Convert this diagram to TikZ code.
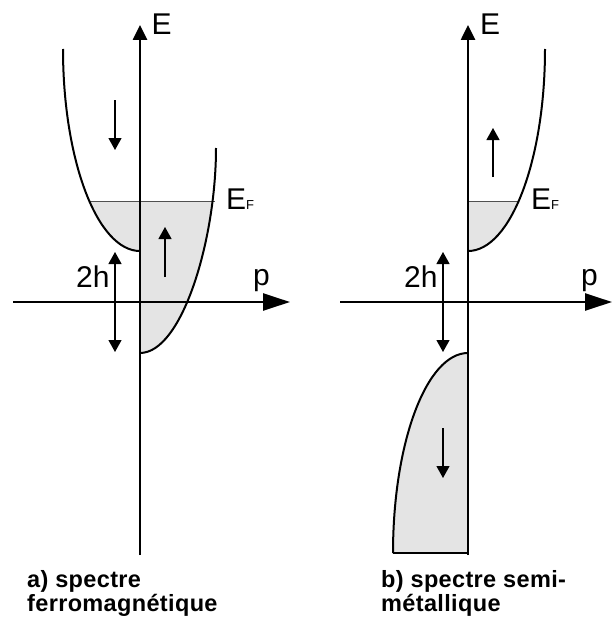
\documentclass[tikz,border=0pt]{standalone}
\usepackage{fontspec}
\setmainfont{Liberation Sans}
\usetikzlibrary{arrows.meta}
\definecolor{bandfill}{RGB}{228,228,228}
\definecolor{fermi}{RGB}{80,80,80}
\begin{document}
\begin{tikzpicture}[x=1pt,y=-1pt,
  axisline/.style={line width=2.6pt},
  haxis/.style={axisline,-{Triangle[length=27pt,width=17pt]}},
  vaxis/.style={axisline,-{Triangle[length=15pt,width=14pt]}},
  bandline/.style={line width=2pt},
  spinarrow/.style={line width=1.2pt,-{Triangle[length=12pt,width=13pt]}},
  gaparrow/.style={line width=1.2pt,{Triangle[length=12pt,width=13pt]}-{Triangle[length=12pt,width=13pt]}},
  fermiline/.style={line width=1pt,draw=fermi},
  lbl/.style={inner sep=0pt,anchor=base west,font=\fontsize{30}{30}\selectfont},
  captxt/.style={inner sep=0pt,anchor=base west,font=\fontsize{23.5}{24}\selectfont\bfseries\addfontfeature{LetterSpace=1.5}}
]
\useasboundingbox (0,0) rectangle (613,626);

% ---------- coordinates: panel a ----------
\coordinate (aEbot) at (140,555);
\coordinate (aEtop) at (140,25);
\coordinate (aPleft) at (13,302);
\coordinate (aPright) at (290,302);
\coordinate (aDtop) at (63,49);
\coordinate (aDmin) at (140,251);
\coordinate (aUmin) at (140,353);
\coordinate (aUtop) at (216,148);
\coordinate (aFl) at (89,201);
\coordinate (aFr) at (215,201);
\coordinate (aDn1) at (115,100);
\coordinate (aDn2) at (115,150);
\coordinate (aUp1) at (165,277);
\coordinate (aUp2) at (165,227);
\coordinate (aG1) at (115,252);
\coordinate (aG2) at (115,352);

% ---------- coordinates: panel b ----------
\coordinate (bEbot) at (468,555);
\coordinate (bEtop) at (468,25);
\coordinate (bPleft) at (340,302);
\coordinate (bPright) at (612,302);
\coordinate (bUtop) at (545,49);
\coordinate (bUmin) at (468,251);
\coordinate (bDmax) at (468,353);
\coordinate (bDbot) at (393,553);
\coordinate (bDcorner) at (468,553);
\coordinate (bFl) at (468,201);
\coordinate (bFr) at (518,201);
\coordinate (bUp1) at (493,177);
\coordinate (bUp2) at (493,128);
\coordinate (bG1) at (443,252);
\coordinate (bG2) at (443,352);
\coordinate (bDn1) at (443,428);
\coordinate (bDn2) at (443,478);

% ---------- filled regions ----------
\begin{scope}
  \clip (0,201) rectangle (613,626);
  \fill[bandfill] (aDtop) .. controls (63,160.6) and (97.5,251) .. (aDmin)
     -- (aUmin) .. controls (182,353) and (216,239.8) .. (aUtop) -- cycle;
  \fill[bandfill] (bUtop) .. controls (545,160.6) and (510.5,251) .. (bUmin)
     -- (468,49) -- cycle;
\end{scope}
\fill[bandfill] (bDmax) .. controls (426.6,353) and (393,442.5) .. (bDbot) -- (bDcorner) -- cycle;

% ---------- Fermi levels ----------
\draw[fermiline] (aFl) -- (aFr);
\draw[fermiline] (bFl) -- (bFr);

% ---------- bands ----------
\draw[bandline] (aDtop) .. controls (63,160.6) and (97.5,251) .. (aDmin);
\draw[bandline] (aUmin) .. controls (182,353) and (216,239.8) .. (aUtop);
\draw[bandline] (bUtop) .. controls (545,160.6) and (510.5,251) .. (bUmin);
\draw[bandline] (bDmax) .. controls (426.6,353) and (393,442.5) .. (bDbot);
\draw[line width=1.5pt] (bDbot) -- (bDcorner);

% ---------- axes ----------
\draw[haxis] (aPleft) -- (aPright);
\draw[vaxis] (aEbot) -- (aEtop);
\draw[haxis] (bPleft) -- (bPright);
\draw[vaxis] (bEbot) -- (bEtop);

% ---------- spin and gap arrows ----------
\draw[spinarrow] (aDn1) -- (aDn2);
\draw[spinarrow] (aUp1) -- (aUp2);
\draw[gaparrow] (aG1) -- (aG2);
\draw[spinarrow] (bUp1) -- (bUp2);
\draw[gaparrow] (bG1) -- (bG2);
\draw[spinarrow] (bDn1) -- (bDn2);

% ---------- labels ----------
\node[lbl] (aE) at (151.5,35) {E};
\node[lbl] (bE) at (480,35) {E};
\node[lbl] (ap) at (253,285.5) {p};
\node[lbl] (bp) at (581,285.5) {p};
\node[lbl] (a2h) at (76,287) {2h};
\node[lbl] (b2h) at (404,287) {2h};
\node[lbl] (aEF) at (226,209) {E{\fontsize{13}{13}\selectfont F}};
\node[lbl] (bEF) at (531,209) {E{\fontsize{13}{13}\selectfont F}};

\node[captxt] (acap1) at (27,587) {a) spectre};
\node[captxt] (acap2) at (27,611) {ferromagnétique};
\node[captxt] (bcap1) at (381,587) {b) spectre semi-};
\node[captxt] (bcap2) at (381,611) {métallique};
\end{tikzpicture}
\end{document}
